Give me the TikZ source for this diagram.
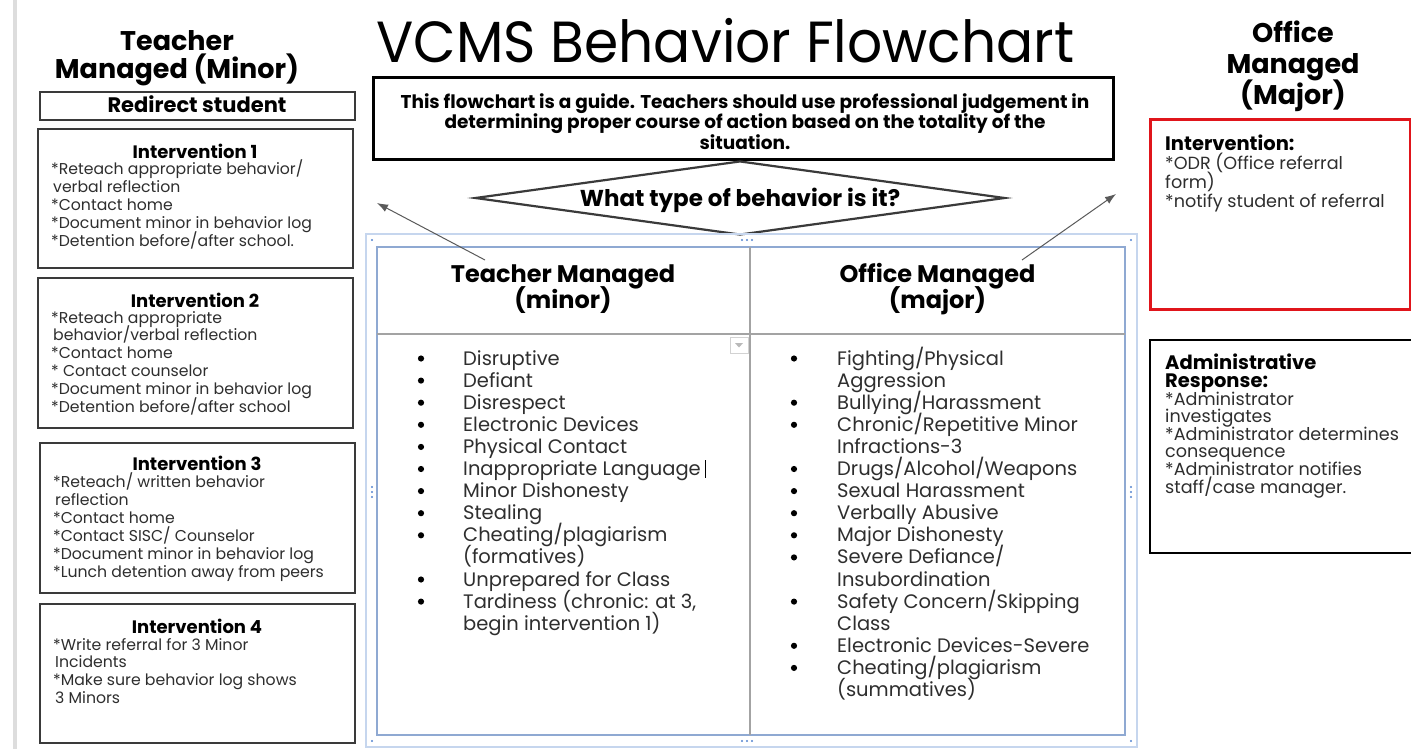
\documentclass[tikz,border=0pt]{standalone}
\usepackage{fontspec}
\usepackage{graphicx}
\setmainfont{Poppins}
\usetikzlibrary{shapes.geometric,arrows.meta}

\definecolor{bodygray}{HTML}{2E2E2E}
\definecolor{boxline}{HTML}{3A3A3A}
\definecolor{tblblue}{HTML}{8FA9D2}
\definecolor{tblgray}{HTML}{A3A3A3}
\definecolor{frameblue}{HTML}{C6D6EE}
\definecolor{handleblue}{HTML}{5585D0}
\definecolor{alertred}{HTML}{E0151B}
\definecolor{margingray}{HTML}{DDDDDD}
\definecolor{arrowgray}{HTML}{5A5A5A}

% stacked lines on a fixed baseline grid; the block's baseline is its first line's
\newcommand\leftlines[1]{\vtop{\lineskiplimit=-1000pt\lineskip=0pt\halign{##\hfil\cr#1\crcr}}}
\newcommand\midlines[1]{\vtop{\lineskiplimit=-1000pt\lineskip=0pt\halign{\hfil##\hfil\cr#1\crcr}}}

\tikzset{
  sidehead/.style={inner sep=0pt, anchor=base, font=\fontsize{27}{30}\selectfont\bfseries},
  ivbox/.style={draw=boxline, line width=1.6pt, inner sep=0pt, anchor=north west},
  ivtitle/.style={inner sep=0pt, anchor=base, font=\fontsize{18}{20}\selectfont\bfseries},
  ivbody/.style={inner sep=0pt, anchor=base west, text=bodygray, font=\fontsize{15.7}{17.8}\selectfont},
  colhead/.style={inner sep=0pt, anchor=base, font=\fontsize{24}{26}\selectfont\bfseries},
  listtext/.style={inner sep=0pt, anchor=base west, text=bodygray, font=\fontsize{19.5}{22.1}\selectfont},
  majhead/.style={inner sep=0pt, anchor=base west, font=\fontsize{19.5}{18}\selectfont\bfseries},
  majbody/.style={inner sep=0pt, anchor=base west, text=bodygray, font=\fontsize{17.6}{18.5}\selectfont},
  pointer/.style={draw=arrowgray, line width=1pt, -{Latex[length=11pt,width=8pt]}},
  handle/.style={fill=handleblue, inner sep=0pt, minimum size=2.4pt, circle},
}

\begin{document}
\begin{tikzpicture}[x=1pt,y=-1pt]
\useasboundingbox (0,0) rectangle (1411,749);
\clip (0,0) rectangle (1411,749);
\fill[white] (0,0) rectangle (1411,749);

% page margin rule
\draw[margingray, line width=4pt] (15,0) -- (15,749);

% ---------- title ----------
\node[inner sep=0pt, anchor=base, font=\fontsize{58}{66}\selectfont] (title) at (725.5,63)
  {\scalebox{0.95}[1]{VCMS Behavior Flowchart}};

% ---------- left column: teacher managed ----------
\node[sidehead, font=\fontsize{27}{28}\selectfont\bfseries] (lefthead) at (177,51) {\midlines{Teacher\cr Managed (Minor)}};

\node[ivbox, minimum width=315pt, minimum height=28pt] (redirect) at (39,91) {};
\node[inner sep=0pt, anchor=base, font=\fontsize{21}{22}\selectfont\bfseries] (redirectt) at (197,112.5) {Redirect student};

\node[ivbox, minimum width=315pt, minimum height=139pt] (iv1) at (37,128) {};
\node[ivtitle] (iv1t) at (195,159) {Intervention 1};
\node[ivbody] (iv1b) at (51,175) {\leftlines{*Reteach appropriate behavior/\cr
  \hspace{2pt}verbal reflection\cr
  *Contact home\cr
  *Document minor in behavior log\cr
  *Detention before/after school.}};

\node[ivbox, minimum width=315pt, minimum height=150pt] (iv2) at (37,277) {};
\node[ivtitle] (iv2t) at (195,307) {Intervention 2};
\node[ivbody] (iv2b) at (51,323) {\leftlines{*Reteach appropriate\cr
  \hspace{2pt}behavior/verbal reflection\cr
  *Contact home\cr
  * Contact counselor\cr
  *Document minor in behavior log\cr
  *Detention before/after school}};

\node[ivbox, minimum width=315pt, minimum height=150pt] (iv3) at (39,442) {};
\node[ivtitle] (iv3t) at (197,470) {Intervention 3};
\node[ivbody, font=\fontsize{15.7}{18.1}\selectfont] (iv3b) at (53,487) {\leftlines{*Reteach/ written behavior\cr
  \hspace{2pt}reflection\cr
  *Contact home\cr
  *Contact SISC/ Counselor\cr
  *Document minor in behavior log\cr
  *Lunch detention away from peers}};

\node[ivbox, minimum width=315pt, minimum height=139pt] (iv4) at (39,603) {};
\node[ivtitle] (iv4t) at (197,633) {Intervention 4};
\node[ivbody] (iv4b) at (53,650) {\leftlines{*Write referral for 3 Minor\cr
  \hspace{2pt}Incidents\cr
  *Make sure behavior log shows\cr
  \hspace{2pt}3 Minors}};

% ---------- centre: guide and decision ----------
\node[draw=black, line width=2.6pt, minimum width=740pt, minimum height=82pt, inner sep=0pt, anchor=north west] (guide) at (372,76) {};
\node[inner sep=0pt, anchor=base, font=\fontsize{18.5}{20.5}\selectfont\bfseries] (guidet) at (745,108.5)
  {\midlines{This flowchart is a guide. Teachers should use professional judgement in\cr
   determining proper course of action based on the totality of the\cr
   situation.}};

\node[diamond, draw=boxline, line width=2.2pt, fill=white, aspect=7.16, inner sep=0pt,
      minimum width=530pt, minimum height=74pt] (decide) at (740,198) {};
\node[inner sep=0pt, anchor=base, font=\fontsize{23}{24}\selectfont\bfseries] (decidet) at (740,206.5)
  {What type of behavior is it?};

% ---------- behaviour table ----------
\draw[frameblue, line width=1.4pt] (366,234) rectangle (1137,747);
\draw[tblblue, line width=1.8pt] (377,247) rectangle (1125,735);
\draw[tblgray, line width=1.8pt] (750,247) -- (750,735);
\draw[tblgray, line width=1.8pt] (377,334) -- (1125,334);

% selection handles on the table frame
\foreach \hx/\hy in {372/240, 1131/240, 372/741, 1131/741}
  \node[handle] at (\hx,\hy) {};
\foreach \hx in {742,747,752}
  {\node[handle] at (\hx,240) {}; \node[handle] at (\hx,741) {};}
\foreach \hy in {487,492,497}
  {\node[handle] at (372,\hy) {}; \node[handle] at (1131,\hy) {};}

% cell drop-down marker
\draw[gray!35, fill=white, line width=0.8pt] (730,337) rectangle (748,353);
\fill[gray!55] (735,343) -- (743,343) -- (739,347.5) -- cycle;

\node[colhead] (minorhead) at (563,282) {\midlines{Teacher Managed\cr (minor)}};
\node[colhead] (majorhead) at (937.5,282) {\midlines{Office Managed\cr (major)}};

% bullets of the two lists
\foreach \k in {0,...,8,10,11}
  \fill (421,358.5+22.1*\k) circle (3.1pt);
\foreach \k in {0,2,3,5,6,7,8,9,11,13,14}
  \fill (794,358.5+22.1*\k) circle (3.1pt);

\node[listtext] (minorlist) at (463,365) {\leftlines{Disruptive\cr
  Defiant\cr
  Disrespect\cr
  Electronic Devices\cr
  Physical Contact\cr
  Inappropriate Language\cr
  Minor Dishonesty\cr
  Stealing\cr
  Cheating/plagiarism\cr
  (formatives)\cr
  Unprepared for Class\cr
  Tardiness (chronic: at 3,\cr
  begin intervention 1)}};
% text cursor
\draw[black, line width=1.6pt] (705.5,460) -- (705.5,478);

\node[listtext] (majorlist) at (837,365) {\leftlines{Fighting/Physical\cr
  Aggression\cr
  Bullying/Harassment\cr
  Chronic/Repetitive Minor\cr
  Infractions-3\cr
  Drugs/Alcohol/Weapons\cr
  Sexual Harassment\cr
  Verbally Abusive\cr
  Major Dishonesty\cr
  Severe Defiance/\cr
  Insubordination\cr
  Safety Concern/Skipping\cr
  Class\cr
  Electronic Devices-Severe\cr
  Cheating/plagiarism\cr
  (summatives)}};

% ---------- right column: office managed ----------
\node[sidehead, font=\fontsize{27}{31}\selectfont\bfseries] (righthead) at (1293,43) {\midlines{Office\cr Managed\cr (Major)}};

\node[draw=alertred, line width=3pt, minimum width=260pt, minimum height=190pt, inner sep=0pt, anchor=north west] (odr) at (1149,118) {};
\node[majhead] (odrt) at (1165,151) {Intervention:};
\node[majbody] (odrb) at (1165,170) {\leftlines{*ODR (Office referral\cr form)\cr *notify student of referral}};

\node[draw=black, line width=2.4pt, minimum width=280pt, minimum height=213pt, inner sep=0pt, anchor=north west] (admin) at (1149,339) {};
\node[majhead, font=\fontsize{19.5}{18}\selectfont\bfseries] (admint) at (1165,369) {\leftlines{Administrative\cr Response:}};
\node[majbody, font=\fontsize{17.6}{17.6}\selectfont] (adminb) at (1165,405) {\leftlines{*Administrator\cr
  investigates\cr
  *Administrator determines\cr
  consequence\cr
  *Administrator notifies\cr
  staff/case manager.}};

% ---------- pointers from the table headings ----------
\coordinate (minorfrom) at (485,260);
\coordinate (minorto) at (377,203);
\coordinate (majorfrom) at (1022,260);
\coordinate (majorto) at (1116,194);
\draw[pointer] (minorfrom) -- (minorto);
\draw[pointer] (majorfrom) -- (majorto);
\end{tikzpicture}
\end{document}
